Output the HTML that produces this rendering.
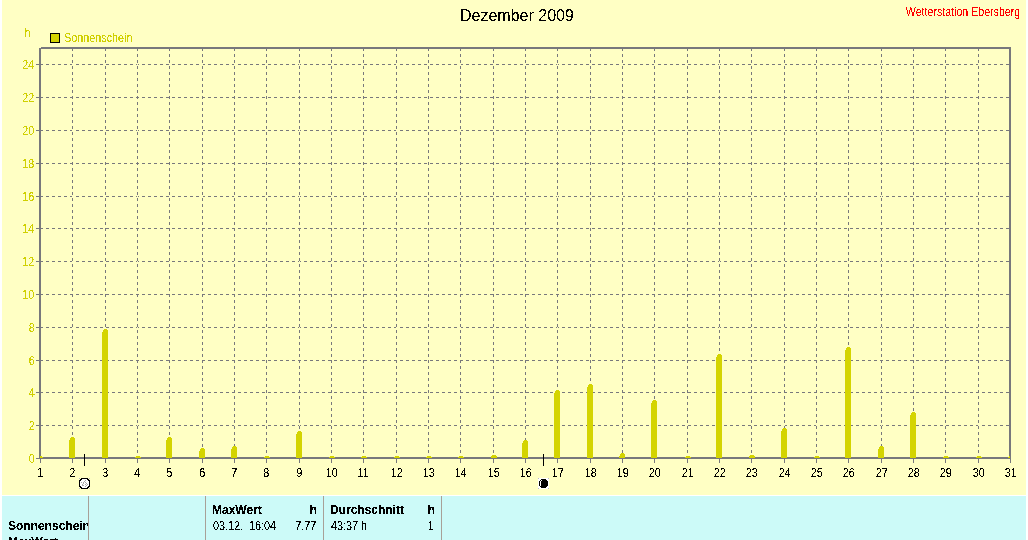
<!DOCTYPE html>
<html><head><meta charset="utf-8"><style>
html,body{margin:0;padding:0;background:#fff;}
body{width:1028px;height:540px;position:relative;overflow:hidden;font-family:"Liberation Sans",Arial,sans-serif;}
svg{position:absolute;left:0;top:0;}
.t{position:absolute;white-space:nowrap;font-size:12px;line-height:20px;color:#000;}
.t span{display:inline-block;transform:scaleX(0.9);transform-origin:0 0;}
.r span{transform-origin:100% 0;}
.b{font-weight:bold;}
.yl{left:0;width:34px;text-align:right;}
.yl span{transform-origin:100% 0;}
.xl{width:31px;text-align:center;}
.xl span{transform-origin:50% 0;}
.tx{position:absolute;left:0;top:0;width:1028px;height:540px;filter:url(#crisp);}
.tx3{position:absolute;left:0;top:0;width:1028px;height:540px;filter:url(#crisp3);}
.tx2{position:absolute;left:0;top:0;width:1028px;height:540px;filter:url(#crisp2);}
.clip{position:absolute;left:0;top:496px;width:88px;height:44px;overflow:hidden;}
</style></head><body>
<svg width="0" height="0" style="position:absolute"><filter id="crisp" color-interpolation-filters="sRGB"><feComponentTransfer><feFuncA type="discrete" tableValues="0 0 1 1 1"/></feComponentTransfer></filter><filter id="crisp3" color-interpolation-filters="sRGB"><feComponentTransfer><feFuncA type="discrete" tableValues="0 0 0 0 0 0 0 0 0 1 1 1 1 1 1 1 1 1 1 1"/></feComponentTransfer></filter><filter id="crisp2" color-interpolation-filters="sRGB"><feComponentTransfer><feFuncA type="discrete" tableValues="0 0 0 0 0 0 0 0 0 1 1 1 1 1 1 1 1 1 1 1"/></feComponentTransfer></filter></svg>
<svg width="1028" height="540" viewBox="0 0 1028 540" shape-rendering="crispEdges">
<rect x="2" y="0" width="1024" height="495" fill="#FFFFC4"/>
<rect x="2" y="496" width="1024" height="44" fill="#CCFAF8"/>
<line x1="40" y1="425.5" x2="1009" y2="425.5" stroke="#78787C" stroke-width="1" stroke-dasharray="3 3"/>
<rect x="36" y="425" width="3" height="1" fill="#78787C"/>
<line x1="40" y1="392.5" x2="1009" y2="392.5" stroke="#78787C" stroke-width="1" stroke-dasharray="3 3"/>
<rect x="36" y="392" width="3" height="1" fill="#78787C"/>
<line x1="40" y1="360.5" x2="1009" y2="360.5" stroke="#78787C" stroke-width="1" stroke-dasharray="3 3"/>
<rect x="36" y="360" width="3" height="1" fill="#78787C"/>
<line x1="40" y1="327.5" x2="1009" y2="327.5" stroke="#78787C" stroke-width="1" stroke-dasharray="3 3"/>
<rect x="36" y="327" width="3" height="1" fill="#78787C"/>
<line x1="40" y1="294.5" x2="1009" y2="294.5" stroke="#78787C" stroke-width="1" stroke-dasharray="3 3"/>
<rect x="36" y="294" width="3" height="1" fill="#78787C"/>
<line x1="40" y1="261.5" x2="1009" y2="261.5" stroke="#78787C" stroke-width="1" stroke-dasharray="3 3"/>
<rect x="36" y="261" width="3" height="1" fill="#78787C"/>
<line x1="40" y1="228.5" x2="1009" y2="228.5" stroke="#78787C" stroke-width="1" stroke-dasharray="3 3"/>
<rect x="36" y="228" width="3" height="1" fill="#78787C"/>
<line x1="40" y1="196.5" x2="1009" y2="196.5" stroke="#78787C" stroke-width="1" stroke-dasharray="3 3"/>
<rect x="36" y="196" width="3" height="1" fill="#78787C"/>
<line x1="40" y1="163.5" x2="1009" y2="163.5" stroke="#78787C" stroke-width="1" stroke-dasharray="3 3"/>
<rect x="36" y="163" width="3" height="1" fill="#78787C"/>
<line x1="40" y1="130.5" x2="1009" y2="130.5" stroke="#78787C" stroke-width="1" stroke-dasharray="3 3"/>
<rect x="36" y="130" width="3" height="1" fill="#78787C"/>
<line x1="40" y1="97.5" x2="1009" y2="97.5" stroke="#78787C" stroke-width="1" stroke-dasharray="3 3"/>
<rect x="36" y="97" width="3" height="1" fill="#78787C"/>
<line x1="40" y1="64.5" x2="1009" y2="64.5" stroke="#78787C" stroke-width="1" stroke-dasharray="3 3"/>
<rect x="36" y="64" width="3" height="1" fill="#78787C"/>
<line x1="72.5" y1="49" x2="72.5" y2="457" stroke="#FFFFC4" stroke-width="1"/>
<line x1="72.5" y1="48" x2="72.5" y2="457" stroke="#78787C" stroke-width="1" stroke-dasharray="3 3"/>
<line x1="105.5" y1="49" x2="105.5" y2="457" stroke="#FFFFC4" stroke-width="1"/>
<line x1="105.5" y1="48" x2="105.5" y2="457" stroke="#78787C" stroke-width="1" stroke-dasharray="3 3"/>
<line x1="137.5" y1="49" x2="137.5" y2="457" stroke="#FFFFC4" stroke-width="1"/>
<line x1="137.5" y1="48" x2="137.5" y2="457" stroke="#78787C" stroke-width="1" stroke-dasharray="3 3"/>
<line x1="169.5" y1="49" x2="169.5" y2="457" stroke="#FFFFC4" stroke-width="1"/>
<line x1="169.5" y1="48" x2="169.5" y2="457" stroke="#78787C" stroke-width="1" stroke-dasharray="3 3"/>
<line x1="202.5" y1="49" x2="202.5" y2="457" stroke="#FFFFC4" stroke-width="1"/>
<line x1="202.5" y1="48" x2="202.5" y2="457" stroke="#78787C" stroke-width="1" stroke-dasharray="3 3"/>
<line x1="234.5" y1="49" x2="234.5" y2="457" stroke="#FFFFC4" stroke-width="1"/>
<line x1="234.5" y1="48" x2="234.5" y2="457" stroke="#78787C" stroke-width="1" stroke-dasharray="3 3"/>
<line x1="266.5" y1="49" x2="266.5" y2="457" stroke="#FFFFC4" stroke-width="1"/>
<line x1="266.5" y1="48" x2="266.5" y2="457" stroke="#78787C" stroke-width="1" stroke-dasharray="3 3"/>
<line x1="299.5" y1="49" x2="299.5" y2="457" stroke="#FFFFC4" stroke-width="1"/>
<line x1="299.5" y1="48" x2="299.5" y2="457" stroke="#78787C" stroke-width="1" stroke-dasharray="3 3"/>
<line x1="331.5" y1="49" x2="331.5" y2="457" stroke="#FFFFC4" stroke-width="1"/>
<line x1="331.5" y1="48" x2="331.5" y2="457" stroke="#78787C" stroke-width="1" stroke-dasharray="3 3"/>
<line x1="363.5" y1="49" x2="363.5" y2="457" stroke="#FFFFC4" stroke-width="1"/>
<line x1="363.5" y1="48" x2="363.5" y2="457" stroke="#78787C" stroke-width="1" stroke-dasharray="3 3"/>
<line x1="396.5" y1="49" x2="396.5" y2="457" stroke="#FFFFC4" stroke-width="1"/>
<line x1="396.5" y1="48" x2="396.5" y2="457" stroke="#78787C" stroke-width="1" stroke-dasharray="3 3"/>
<line x1="428.5" y1="49" x2="428.5" y2="457" stroke="#FFFFC4" stroke-width="1"/>
<line x1="428.5" y1="48" x2="428.5" y2="457" stroke="#78787C" stroke-width="1" stroke-dasharray="3 3"/>
<line x1="460.5" y1="49" x2="460.5" y2="457" stroke="#FFFFC4" stroke-width="1"/>
<line x1="460.5" y1="48" x2="460.5" y2="457" stroke="#78787C" stroke-width="1" stroke-dasharray="3 3"/>
<line x1="493.5" y1="49" x2="493.5" y2="457" stroke="#FFFFC4" stroke-width="1"/>
<line x1="493.5" y1="48" x2="493.5" y2="457" stroke="#78787C" stroke-width="1" stroke-dasharray="3 3"/>
<line x1="525.5" y1="49" x2="525.5" y2="457" stroke="#FFFFC4" stroke-width="1"/>
<line x1="525.5" y1="48" x2="525.5" y2="457" stroke="#78787C" stroke-width="1" stroke-dasharray="3 3"/>
<line x1="557.5" y1="49" x2="557.5" y2="457" stroke="#FFFFC4" stroke-width="1"/>
<line x1="557.5" y1="48" x2="557.5" y2="457" stroke="#78787C" stroke-width="1" stroke-dasharray="3 3"/>
<line x1="590.5" y1="49" x2="590.5" y2="457" stroke="#FFFFC4" stroke-width="1"/>
<line x1="590.5" y1="48" x2="590.5" y2="457" stroke="#78787C" stroke-width="1" stroke-dasharray="3 3"/>
<line x1="622.5" y1="49" x2="622.5" y2="457" stroke="#FFFFC4" stroke-width="1"/>
<line x1="622.5" y1="48" x2="622.5" y2="457" stroke="#78787C" stroke-width="1" stroke-dasharray="3 3"/>
<line x1="654.5" y1="49" x2="654.5" y2="457" stroke="#FFFFC4" stroke-width="1"/>
<line x1="654.5" y1="48" x2="654.5" y2="457" stroke="#78787C" stroke-width="1" stroke-dasharray="3 3"/>
<line x1="687.5" y1="49" x2="687.5" y2="457" stroke="#FFFFC4" stroke-width="1"/>
<line x1="687.5" y1="48" x2="687.5" y2="457" stroke="#78787C" stroke-width="1" stroke-dasharray="3 3"/>
<line x1="719.5" y1="49" x2="719.5" y2="457" stroke="#FFFFC4" stroke-width="1"/>
<line x1="719.5" y1="48" x2="719.5" y2="457" stroke="#78787C" stroke-width="1" stroke-dasharray="3 3"/>
<line x1="751.5" y1="49" x2="751.5" y2="457" stroke="#FFFFC4" stroke-width="1"/>
<line x1="751.5" y1="48" x2="751.5" y2="457" stroke="#78787C" stroke-width="1" stroke-dasharray="3 3"/>
<line x1="784.5" y1="49" x2="784.5" y2="457" stroke="#FFFFC4" stroke-width="1"/>
<line x1="784.5" y1="48" x2="784.5" y2="457" stroke="#78787C" stroke-width="1" stroke-dasharray="3 3"/>
<line x1="816.5" y1="49" x2="816.5" y2="457" stroke="#FFFFC4" stroke-width="1"/>
<line x1="816.5" y1="48" x2="816.5" y2="457" stroke="#78787C" stroke-width="1" stroke-dasharray="3 3"/>
<line x1="848.5" y1="49" x2="848.5" y2="457" stroke="#FFFFC4" stroke-width="1"/>
<line x1="848.5" y1="48" x2="848.5" y2="457" stroke="#78787C" stroke-width="1" stroke-dasharray="3 3"/>
<line x1="881.5" y1="49" x2="881.5" y2="457" stroke="#FFFFC4" stroke-width="1"/>
<line x1="881.5" y1="48" x2="881.5" y2="457" stroke="#78787C" stroke-width="1" stroke-dasharray="3 3"/>
<line x1="913.5" y1="49" x2="913.5" y2="457" stroke="#FFFFC4" stroke-width="1"/>
<line x1="913.5" y1="48" x2="913.5" y2="457" stroke="#78787C" stroke-width="1" stroke-dasharray="3 3"/>
<line x1="945.5" y1="49" x2="945.5" y2="457" stroke="#FFFFC4" stroke-width="1"/>
<line x1="945.5" y1="48" x2="945.5" y2="457" stroke="#78787C" stroke-width="1" stroke-dasharray="3 3"/>
<line x1="978.5" y1="49" x2="978.5" y2="457" stroke="#FFFFC4" stroke-width="1"/>
<line x1="978.5" y1="48" x2="978.5" y2="457" stroke="#78787C" stroke-width="1" stroke-dasharray="3 3"/>
<rect x="41" y="47" width="970" height="2" fill="#78787C"/>
<rect x="39" y="48" width="2" height="411" fill="#78787C"/>
<rect x="1009" y="47" width="2" height="412" fill="#78787C"/>
<rect x="40" y="457" width="971" height="2" fill="#78787C"/>
<rect x="36" y="458" width="4" height="1" fill="#78787C"/>
<rect x="40" y="459" width="1" height="4" fill="#78787C"/>
<rect x="72" y="459" width="1" height="4" fill="#78787C"/>
<rect x="105" y="459" width="1" height="4" fill="#78787C"/>
<rect x="137" y="459" width="1" height="4" fill="#78787C"/>
<rect x="169" y="459" width="1" height="4" fill="#78787C"/>
<rect x="202" y="459" width="1" height="4" fill="#78787C"/>
<rect x="234" y="459" width="1" height="4" fill="#78787C"/>
<rect x="266" y="459" width="1" height="4" fill="#78787C"/>
<rect x="299" y="459" width="1" height="4" fill="#78787C"/>
<rect x="331" y="459" width="1" height="4" fill="#78787C"/>
<rect x="363" y="459" width="1" height="4" fill="#78787C"/>
<rect x="396" y="459" width="1" height="4" fill="#78787C"/>
<rect x="428" y="459" width="1" height="4" fill="#78787C"/>
<rect x="460" y="459" width="1" height="4" fill="#78787C"/>
<rect x="493" y="459" width="1" height="4" fill="#78787C"/>
<rect x="525" y="459" width="1" height="4" fill="#78787C"/>
<rect x="557" y="459" width="1" height="4" fill="#78787C"/>
<rect x="590" y="459" width="1" height="4" fill="#78787C"/>
<rect x="622" y="459" width="1" height="4" fill="#78787C"/>
<rect x="654" y="459" width="1" height="4" fill="#78787C"/>
<rect x="687" y="459" width="1" height="4" fill="#78787C"/>
<rect x="719" y="459" width="1" height="4" fill="#78787C"/>
<rect x="751" y="459" width="1" height="4" fill="#78787C"/>
<rect x="784" y="459" width="1" height="4" fill="#78787C"/>
<rect x="816" y="459" width="1" height="4" fill="#78787C"/>
<rect x="848" y="459" width="1" height="4" fill="#78787C"/>
<rect x="881" y="459" width="1" height="4" fill="#78787C"/>
<rect x="913" y="459" width="1" height="4" fill="#78787C"/>
<rect x="945" y="459" width="1" height="4" fill="#78787C"/>
<rect x="978" y="459" width="1" height="4" fill="#78787C"/>
<rect x="1010" y="459" width="1" height="4" fill="#78787C"/>
<g fill="#D4D400"><rect x="40" y="456" width="2" height="1"/><rect x="40" y="457" width="3" height="1"/><rect x="71" y="437" width="3" height="1"/><rect x="70" y="438" width="5" height="2"/><rect x="69" y="440" width="6" height="18"/><rect x="104" y="329" width="3" height="1"/><rect x="103" y="330" width="5" height="2"/><rect x="102" y="332" width="6" height="126"/><rect x="136" y="456" width="4" height="1"/><rect x="135" y="457" width="6" height="1"/><rect x="168" y="437" width="3" height="1"/><rect x="167" y="438" width="5" height="2"/><rect x="166" y="440" width="6" height="18"/><rect x="201" y="448" width="3" height="1"/><rect x="200" y="449" width="5" height="2"/><rect x="199" y="451" width="6" height="7"/><rect x="233" y="446" width="3" height="1"/><rect x="232" y="447" width="5" height="2"/><rect x="231" y="449" width="6" height="9"/><rect x="265" y="456" width="4" height="1"/><rect x="264" y="457" width="6" height="1"/><rect x="298" y="431" width="3" height="1"/><rect x="297" y="432" width="5" height="2"/><rect x="296" y="434" width="6" height="24"/><rect x="330" y="456" width="4" height="1"/><rect x="329" y="457" width="6" height="1"/><rect x="362" y="456" width="4" height="1"/><rect x="361" y="457" width="6" height="1"/><rect x="395" y="456" width="4" height="1"/><rect x="394" y="457" width="6" height="1"/><rect x="427" y="456" width="4" height="1"/><rect x="426" y="457" width="6" height="1"/><rect x="459" y="456" width="4" height="1"/><rect x="458" y="457" width="6" height="1"/><rect x="492" y="455" width="4" height="1"/><rect x="491" y="456" width="6" height="2"/><rect x="524" y="440" width="3" height="1"/><rect x="523" y="441" width="5" height="2"/><rect x="522" y="443" width="6" height="15"/><rect x="556" y="390" width="3" height="1"/><rect x="555" y="391" width="5" height="2"/><rect x="554" y="393" width="6" height="65"/><rect x="589" y="384" width="3" height="1"/><rect x="588" y="385" width="5" height="2"/><rect x="587" y="387" width="6" height="71"/><rect x="621" y="453" width="3" height="1"/><rect x="620" y="454" width="5" height="2"/><rect x="619" y="456" width="6" height="2"/><rect x="653" y="400" width="3" height="1"/><rect x="652" y="401" width="5" height="2"/><rect x="651" y="403" width="6" height="55"/><rect x="686" y="456" width="4" height="1"/><rect x="685" y="457" width="6" height="1"/><rect x="718" y="354" width="3" height="1"/><rect x="717" y="355" width="5" height="2"/><rect x="716" y="357" width="6" height="101"/><rect x="750" y="455" width="4" height="1"/><rect x="749" y="456" width="6" height="2"/><rect x="783" y="428" width="3" height="1"/><rect x="782" y="429" width="5" height="2"/><rect x="781" y="431" width="6" height="27"/><rect x="815" y="456" width="4" height="1"/><rect x="814" y="457" width="6" height="1"/><rect x="847" y="347" width="3" height="1"/><rect x="846" y="348" width="5" height="2"/><rect x="845" y="350" width="6" height="108"/><rect x="880" y="446" width="3" height="1"/><rect x="879" y="447" width="5" height="2"/><rect x="878" y="449" width="6" height="9"/><rect x="912" y="412" width="3" height="1"/><rect x="911" y="413" width="5" height="2"/><rect x="910" y="415" width="6" height="43"/><rect x="944" y="456" width="4" height="1"/><rect x="943" y="457" width="6" height="1"/><rect x="977" y="456" width="4" height="1"/><rect x="976" y="457" width="6" height="1"/><rect x="1009" y="456" width="1" height="1"/><rect x="1008" y="457" width="2" height="1"/></g>
<rect x="84" y="454" width="1" height="12" fill="#000"/>
<rect x="543" y="454" width="1" height="12" fill="#000"/>
<rect x="88" y="496" width="1" height="44" fill="#A8A098"/>
<rect x="205" y="496" width="1" height="44" fill="#A8A098"/>
<rect x="323" y="496" width="1" height="44" fill="#A8A098"/>
<rect x="441" y="496" width="1" height="44" fill="#A8A098"/>
<rect x="50.5" y="33.5" width="9" height="9" fill="#D4D400" stroke="#000" stroke-width="1"/>
<rect x="82" y="479" width="5" height="1" fill="#FFFFFF"/><rect x="81" y="480" width="7" height="1" fill="#FFFFFF"/><rect x="80" y="481" width="9" height="1" fill="#FFFFFF"/><rect x="80" y="482" width="9" height="1" fill="#FFFFFF"/><rect x="80" y="483" width="9" height="1" fill="#FFFFFF"/><rect x="80" y="484" width="9" height="1" fill="#FFFFFF"/><rect x="80" y="485" width="9" height="1" fill="#FFFFFF"/><rect x="81" y="486" width="7" height="1" fill="#FFFFFF"/><rect x="82" y="487" width="5" height="1" fill="#FFFFFF"/><rect x="81" y="478" width="7" height="1" fill="#000000"/><rect x="80" y="479" width="2" height="1" fill="#000000"/><rect x="87" y="479" width="2" height="1" fill="#000000"/><rect x="79" y="480" width="2" height="1" fill="#000000"/><rect x="88" y="480" width="2" height="1" fill="#000000"/><rect x="79" y="481" width="1" height="1" fill="#000000"/><rect x="89" y="481" width="1" height="1" fill="#000000"/><rect x="79" y="482" width="1" height="1" fill="#000000"/><rect x="89" y="482" width="1" height="1" fill="#000000"/><rect x="79" y="483" width="1" height="1" fill="#000000"/><rect x="89" y="483" width="1" height="1" fill="#000000"/><rect x="79" y="484" width="1" height="1" fill="#000000"/><rect x="89" y="484" width="1" height="1" fill="#000000"/><rect x="79" y="485" width="1" height="1" fill="#000000"/><rect x="89" y="485" width="1" height="1" fill="#000000"/><rect x="79" y="486" width="2" height="1" fill="#000000"/><rect x="88" y="486" width="2" height="1" fill="#000000"/><rect x="80" y="487" width="2" height="1" fill="#000000"/><rect x="87" y="487" width="2" height="1" fill="#000000"/><rect x="81" y="488" width="7" height="1" fill="#000000"/><rect x="79" y="478" width="1" height="1" fill="#B8B8CC"/><rect x="89" y="478" width="1" height="1" fill="#B8B8CC"/><rect x="79" y="488" width="1" height="1" fill="#B8B8CC"/><rect x="89" y="488" width="1" height="1" fill="#B8B8CC"/><rect x="81" y="482" width="1" height="1" fill="#ABABAB"/><rect x="82" y="484" width="1" height="1" fill="#ABABAB"/><rect x="83" y="483" width="1" height="1" fill="#ABABAB"/><rect x="83" y="482" width="1" height="1" fill="#ABABAB"/><rect x="84" y="481" width="1" height="1" fill="#ABABAB"/><rect x="85" y="480" width="1" height="1" fill="#ABABAB"/><rect x="83" y="485" width="1" height="1" fill="#ABABAB"/><rect x="85" y="484" width="1" height="1" fill="#ABABAB"/><rect x="85" y="482" width="1" height="1" fill="#ABABAB"/><rect x="86" y="483" width="1" height="1" fill="#ABABAB"/><rect x="87" y="484" width="1" height="1" fill="#ABABAB"/><rect x="86" y="485" width="1" height="1" fill="#ABABAB"/><rect x="85" y="486" width="1" height="1" fill="#ABABAB"/><rect x="82" y="485" width="1" height="1" fill="#ABABAB"/>
<rect x="538" y="478" width="11" height="11" fill="#FFFFFF"/><rect x="541" y="479" width="5" height="1" fill="#000000"/><rect x="540" y="480" width="7" height="1" fill="#000000"/><rect x="539" y="481" width="9" height="1" fill="#000000"/><rect x="539" y="482" width="9" height="1" fill="#000000"/><rect x="539" y="483" width="9" height="1" fill="#000000"/><rect x="539" y="484" width="9" height="1" fill="#000000"/><rect x="539" y="485" width="9" height="1" fill="#000000"/><rect x="540" y="486" width="7" height="1" fill="#000000"/><rect x="541" y="487" width="5" height="1" fill="#000000"/><rect x="541" y="480" width="1" height="1" fill="#FFFFFF"/><rect x="540" y="481" width="1" height="1" fill="#FFFFFF"/><rect x="540" y="482" width="1" height="1" fill="#FFFFFF"/><rect x="540" y="483" width="1" height="1" fill="#FFFFFF"/><rect x="540" y="484" width="1" height="1" fill="#FFFFFF"/><rect x="540" y="485" width="1" height="1" fill="#FFFFFF"/><rect x="538" y="478" width="1" height="1" fill="#B8B8CC"/><rect x="548" y="478" width="1" height="1" fill="#B8B8CC"/><rect x="538" y="488" width="1" height="1" fill="#B8B8CC"/><rect x="548" y="488" width="1" height="1" fill="#B8B8CC"/>
</svg>
<div class="tx2"><div class="t" style="left:460px;top:9px;font-size:16px;line-height:14px;color:#000">Dezember 2009</div><div class="t r" style="right:8px;top:2px;color:#F00"><span style="transform:scaleX(0.885)">Wetterstation Ebersberg</span></div></div><div class="tx3"><div class="t" style="left:24px;top:23px;color:#D0D000"><span style="transform:none">h</span></div><div class="t" style="left:64px;top:28px;color:#D0D000"><span>Sonnenschein</span></div><div class="t yl" style="top:449px;left:1px;color:#D0D000"><span>0</span></div><div class="t yl" style="top:416px;left:1px;color:#D0D000"><span>2</span></div><div class="t yl" style="top:383px;left:1px;color:#D0D000"><span>4</span></div><div class="t yl" style="top:351px;left:1px;color:#D0D000"><span>6</span></div><div class="t yl" style="top:318px;left:1px;color:#D0D000"><span>8</span></div><div class="t yl" style="top:285px;left:0px;color:#D0D000"><span>10</span></div><div class="t yl" style="top:252px;left:0px;color:#D0D000"><span>12</span></div><div class="t yl" style="top:219px;left:0px;color:#D0D000"><span>14</span></div><div class="t yl" style="top:187px;left:0px;color:#D0D000"><span>16</span></div><div class="t yl" style="top:154px;left:0px;color:#D0D000"><span>18</span></div><div class="t yl" style="top:121px;left:0px;color:#D0D000"><span>20</span></div><div class="t yl" style="top:88px;left:0px;color:#D0D000"><span>22</span></div><div class="t yl" style="top:55px;left:0px;color:#D0D000"><span>24</span></div><div class="t xl" style="left:25px;top:463px"><span>1</span></div><div class="t xl" style="left:57px;top:463px"><span>2</span></div><div class="t xl" style="left:90px;top:463px"><span>3</span></div><div class="t xl" style="left:122px;top:463px"><span>4</span></div><div class="t xl" style="left:154px;top:463px"><span>5</span></div><div class="t xl" style="left:187px;top:463px"><span>6</span></div><div class="t xl" style="left:219px;top:463px"><span>7</span></div><div class="t xl" style="left:251px;top:463px"><span>8</span></div><div class="t xl" style="left:284px;top:463px"><span>9</span></div><div class="t xl" style="left:316px;top:463px"><span>10</span></div><div class="t xl" style="left:348px;top:463px"><span>11</span></div><div class="t xl" style="left:381px;top:463px"><span>12</span></div><div class="t xl" style="left:413px;top:463px"><span>13</span></div><div class="t xl" style="left:445px;top:463px"><span>14</span></div><div class="t xl" style="left:478px;top:463px"><span>15</span></div><div class="t xl" style="left:510px;top:463px"><span>16</span></div><div class="t xl" style="left:542px;top:463px"><span>17</span></div><div class="t xl" style="left:575px;top:463px"><span>18</span></div><div class="t xl" style="left:607px;top:463px"><span>19</span></div><div class="t xl" style="left:639px;top:463px"><span>20</span></div><div class="t xl" style="left:672px;top:463px"><span>21</span></div><div class="t xl" style="left:704px;top:463px"><span>22</span></div><div class="t xl" style="left:736px;top:463px"><span>23</span></div><div class="t xl" style="left:769px;top:463px"><span>24</span></div><div class="t xl" style="left:801px;top:463px"><span>25</span></div><div class="t xl" style="left:833px;top:463px"><span>26</span></div><div class="t xl" style="left:866px;top:463px"><span>27</span></div><div class="t xl" style="left:898px;top:463px"><span>28</span></div><div class="t xl" style="left:930px;top:463px"><span>29</span></div><div class="t xl" style="left:963px;top:463px"><span>30</span></div><div class="t xl" style="left:995px;top:463px"><span>31</span></div><div class="t" style="left:213px;top:516px"><span>03.12.&nbsp; 16:04</span></div><div class="t r" style="right:712px;top:516px"><span>7.77</span></div><div class="t" style="left:331px;top:516px"><span>43:37 h</span></div><div class="t r" style="right:594px;top:516px"><span>1</span></div></div><div class="tx"><div class="clip"><div class="t b" style="left:8px;top:20px">Sonnenschein</div><div class="t b" style="left:8px;top:36px">MaxWert</div></div><div class="t b" style="left:212px;top:500px">MaxWert</div><div class="t b r" style="right:711px;top:500px">h</div><div class="t b" style="left:330px;top:500px">Durchschnitt</div><div class="t b r" style="right:593px;top:500px">h</div></div>
</body></html>
